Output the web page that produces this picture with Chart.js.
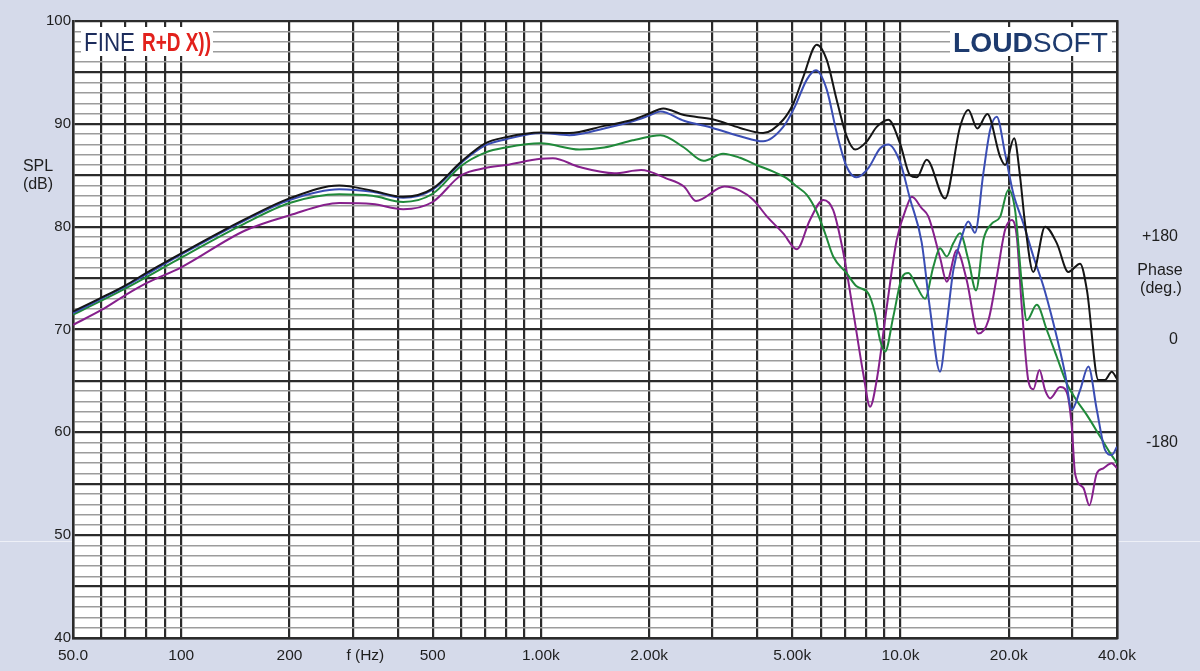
<!DOCTYPE html>
<html lang="en">
<head>
<meta charset="UTF-8">
<title>SPL response</title>
<script src="https://cdn.jsdelivr.net/npm/chart.js"></script>
<style>
  html, body { margin: 0; padding: 0; background: #d5daea; }
  #wrap { position: relative; width: 1200px; height: 671px; }
</style>
</head>
<body>
<div id="wrap"><canvas id="splChart"></canvas></div>
<script>
// measured curves, frequency in Hz and level in dB
const blackHz = [50,60,70,80,100,150,200,275,340,414,500,600,700,800,1000,1200,1500,1800,2000,2190,2500,3000,3580,4150,4720,5040,5370,5850,6240,6650,7090,7480,8060,8590,9250,9970,10630,11100,11830,13300,14640,15440,16350,17440,18920,19540,20700,21500,22200,23400,25240,27200,29300,31580,33000,35500,37050,38670,40000];
const blackDb = [71.75,73.1,74.3,75.5,77.4,80.7,82.75,84.0,83.5,82.9,83.7,86.3,88.1,88.7,89.15,89.1,89.8,90.4,91.0,91.5,90.85,90.45,89.6,89.1,90.4,92.0,94.6,97.7,96.2,92.3,88.75,87.5,88.3,89.7,90.4,88.1,85.0,84.8,86.5,82.75,89.7,91.35,89.55,90.95,86.8,86.0,88.6,84.9,80.3,75.6,80.0,78.4,75.6,76.4,73.8,65.1,65.1,65.9,65.2];

const blueHz = [50,60,70,80,100,150,200,275,340,414,500,600,700,800,1000,1200,1500,1800,2000,2150,2500,3000,3580,4150,4720,5090,5490,5820,6240,6650,7090,7550,8140,8770,9250,9970,10630,11450,12080,12880,13450,14030,14800,15440,16110,17000,17750,18520,19540,20600,21970,23420,24970,26620,28690,29940,31580,33300,35140,37050,38670,40000];
const blueDb = [71.6,73.0,74.2,75.35,77.3,80.6,82.6,83.65,83.4,82.8,83.6,86.2,87.9,88.5,89.1,88.9,89.55,90.25,90.8,91.2,90.3,89.6,88.8,88.3,89.7,91.7,94.3,95.2,93.3,89.1,85.8,84.8,85.7,87.6,88.0,86.3,82.7,78.5,72.0,65.9,70.6,75.8,79.0,80.5,79.4,85.2,89.4,90.7,87.1,83.2,80.3,77.1,74.2,70.6,65.7,62.2,64.1,66.4,62.2,58.3,57.8,58.6];

const greenHz = [50,60,70,80,100,150,200,275,340,414,500,600,700,800,1000,1280,1500,1800,2000,2150,2500,2830,3210,3580,3980,4430,4830,5150,5490,5850,6170,6500,7090,7550,8140,8490,8770,9060,9550,10080,10520,11090,11700,12340,12880,13450,14030,14640,15440,16220,17000,17940,18920,19960,20830,21740,22450,23930,25520,27200,29000,30900,32960,35890,38260,40000];
const greenDb = [71.45,72.8,74.0,75.1,77.0,80.3,82.3,83.15,83.0,82.4,83.2,85.9,87.2,87.7,88.1,87.5,87.7,88.4,88.75,88.9,87.7,86.4,87.1,86.7,86.0,85.35,84.7,83.9,83.1,81.45,79.35,77.1,75.45,74.2,73.5,71.6,69.0,67.85,71.25,75.0,75.5,74.2,73.0,76.1,77.9,77.1,78.4,79.35,76.8,73.8,78.7,80.3,80.95,83.6,81.6,74.5,70.9,72.4,69.95,67.35,64.75,63.1,61.7,59.6,58.0,57.0];

const purpleHz = [50,60,70,80,100,150,200,275,340,414,500,600,700,800,1000,1080,1280,1600,1900,2230,2500,2700,3240,3580,3900,4250,4720,5150,5600,6100,6500,6940,7400,7880,8230,8590,9160,9760,10410,10750,11450,11950,12880,13450,14330,15280,16460,17560,18520,19540,20390,21060,21740,22680,23420,24340,25240,26060,27780,29000,29940,30580,32250,33510,35140,36650,38670,40000];
const purpleDb = [70.45,71.9,73.35,74.5,76.05,79.6,81.1,82.3,82.2,81.7,82.4,85.0,85.7,86.0,86.6,86.65,85.8,85.2,85.5,84.7,83.9,82.5,83.9,83.5,82.6,81.0,79.35,77.8,80.65,82.6,81.6,77.4,71.6,65.7,62.5,65.1,72.2,78.7,81.95,82.9,81.8,81.0,77.0,74.65,77.7,74.8,69.6,70.9,75.1,79.7,80.65,79.0,72.2,65.0,64.2,66.05,64.1,63.3,64.4,63.9,60.6,56.0,54.6,52.9,56.0,56.5,57.0,56.5];

// axis ticks
const freqTicks = [50,60,70,80,90,100,200,300,325,400,500,600,700,800,900,1000,2000,3000,4000,5000,6000,7000,8000,9000,10000,20000,30000,40000];
const freqLabels = {50:'50.0',100:'100',200:'200',325:'f (Hz)',500:'500',1000:'1.00k',2000:'2.00k',5000:'5.00k',10000:'10.0k',20000:'20.0k',40000:'40.0k'};
const splTicks = [];
for (let v = 40; v <= 100; v++) splTicks.push(v);
const phaseTicks = [-180, 0, 180];

const FONT = "'Liberation Sans', Arial, sans-serif";
const DARK = '#2b2b2b';
const GRAY = '#9c9c9c';
const TEXT = '#1e1e1e';

function toPoints(hz, db) {
  return hz.map((f, i) => ({ x: f, y: db[i] }));
}

function fitText(ctx, text, x, y, width) {
  const w = ctx.measureText(text).width;
  ctx.save();
  ctx.translate(x, y);
  ctx.scale(width / w, 1);
  ctx.fillText(text, 0, 0);
  ctx.restore();
}

// paper background, white plot field, logos and axis captions
const paperPlugin = {
  id: 'paper',
  beforeDraw(chart) {
    const { ctx, chartArea: a, width, height } = chart;
    ctx.save();
    ctx.fillStyle = '#d5daea';
    ctx.fillRect(0, 0, width, height);
    const yScan = Math.round(chart.scales.y.getPixelForValue(49.45)) + 0.5;
    ctx.strokeStyle = 'rgba(255,255,255,0.6)';
    ctx.lineWidth = 1;
    ctx.beginPath();
    ctx.moveTo(0, yScan);
    ctx.lineTo(width, yScan);
    ctx.stroke();
    ctx.fillStyle = '#ffffff';
    ctx.fillRect(a.left, a.top, a.right - a.left, a.bottom - a.top);
    ctx.restore();
  },
  afterDraw(chart) {
    const { ctx, chartArea: a } = chart;
    ctx.save();

    // FINE R+D X)) logo
    ctx.fillStyle = '#ffffff';
    ctx.fillRect(a.left + 8, a.top + 6, 132, 29);
    ctx.textBaseline = 'alphabetic';
    ctx.textAlign = 'left';
    ctx.font = '25px ' + FONT;
    ctx.fillStyle = '#1c2c5c';
    fitText(ctx, 'FINE', a.left + 11, a.top + 29.5, 51);
    ctx.font = 'bold 25px ' + FONT;
    ctx.fillStyle = '#e2211c';
    fitText(ctx, 'R+D X))', a.left + 69, a.top + 29.5, 69);

    // LOUDSOFT logo
    ctx.fillStyle = '#ffffff';
    ctx.fillRect(a.right - 167, a.top + 6, 162, 29);
    ctx.font = 'bold 28px ' + FONT;
    const w1 = ctx.measureText('LOUD').width;
    ctx.font = '28px ' + FONT;
    const w2 = ctx.measureText('SOFT').width;
    const k = 155 / (w1 + w2);
    ctx.fillStyle = '#1d3a6e';
    ctx.font = 'bold 28px ' + FONT;
    fitText(ctx, 'LOUD', a.right - 164, a.top + 30.5, w1 * k);
    ctx.font = '28px ' + FONT;
    fitText(ctx, 'SOFT', a.right - 164 + w1 * k, a.top + 30.5, w2 * k);

    // axis captions
    ctx.fillStyle = TEXT;
    ctx.font = '16px ' + FONT;
    ctx.textAlign = 'center';
    ctx.textBaseline = 'middle';
    ctx.fillText('SPL', 38, 167);
    ctx.fillText('(dB)', 38, 185);
    ctx.fillText('Phase', 1160, 271);
    ctx.fillText('(deg.)', 1161, 289);
    ctx.restore();
  }
};

const lineStyle = {
  borderWidth: 2,
  pointRadius: 0,
  fill: false,
  cubicInterpolationMode: 'monotone'
};

const ctx = document.getElementById('splChart').getContext('2d');
const splChart = new Chart(ctx, {
  type: 'line',
  data: {
    datasets: [
      { label: 'black', data: toPoints(blackHz, blackDb), borderColor: '#151515', ...lineStyle },
      { label: 'blue', data: toPoints(blueHz, blueDb), borderColor: '#3a4db4', ...lineStyle },
      { label: 'green', data: toPoints(greenHz, greenDb), borderColor: '#208a3a', ...lineStyle },
      { label: 'purple', data: toPoints(purpleHz, purpleDb), borderColor: '#86208c', ...lineStyle }
    ]
  },
  options: {
    responsive: true,
    maintainAspectRatio: false,
    animation: false,
    events: [],
    layout: { padding: { top: 21, left: 0, right: 22, bottom: 0 } },
    plugins: {
      legend: { display: false },
      tooltip: { enabled: false }
    },
    scales: {
      x: {
        type: 'logarithmic',
        min: 50,
        max: 40000,
        bounds: 'data',
        afterBuildTicks: s => { s.ticks = freqTicks.map(v => ({ value: v })); },
        afterFit: s => { s.height = 33; },
        ticks: {
          autoSkip: false,
          maxRotation: 0,
          padding: 8,
          color: TEXT,
          font: { family: FONT, size: 15.5 },
          callback: v => freqLabels[v] || ''
        },
        grid: {
          drawTicks: false,
          color: c => (c.tick && c.tick.value === 325) ? 'rgba(0,0,0,0)' : DARK,
          lineWidth: 2.2
        },
        border: { display: true, color: DARK, width: 2.5 }
      },
      y: {
        type: 'linear',
        position: 'left',
        min: 40,
        max: 100,
        afterBuildTicks: s => { s.ticks = splTicks.map(v => ({ value: v })); },
        afterFit: s => { s.width = 73; },
        ticks: {
          autoSkip: false,
          padding: 2,
          color: TEXT,
          font: { family: FONT, size: 15 },
          callback: v => (v % 10 === 0 ? String(v) : '')
        },
        grid: {
          drawTicks: false,
          color: c => (c.tick && c.tick.value % 5 === 0) ? DARK : GRAY,
          lineWidth: c => (c.tick && c.tick.value % 5 === 0) ? 2.2 : 1.5
        },
        border: { display: true, color: DARK, width: 2.5 }
      },
      y2: {
        type: 'linear',
        position: 'right',
        min: -522,
        max: 558,
        afterBuildTicks: s => { s.ticks = phaseTicks.map(v => ({ value: v })); },
        afterFit: s => { s.width = 61; },
        ticks: {
          autoSkip: false,
          padding: 0,
          crossAlign: 'far',
          color: TEXT,
          font: { family: FONT, size: 16 },
          callback: v => (v > 0 ? '+' + v : String(v))
        },
        grid: { display: false, drawTicks: false },
        border: { display: true, color: DARK, width: 2.5 }
      }
    }
  },
  plugins: [paperPlugin]
});
</script>
</body>
</html>
